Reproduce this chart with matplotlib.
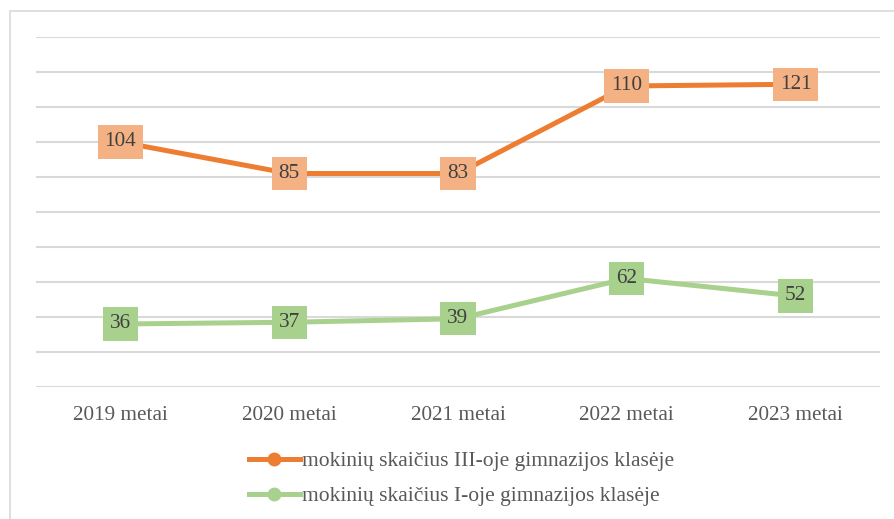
import matplotlib
matplotlib.use("Agg")
import matplotlib.pyplot as plt
from matplotlib.lines import Line2D
from matplotlib.patches import Rectangle

categories = ["2019 metai", "2020 metai", "2021 metai", "2022 metai", "2023 metai"]
grade1 = [36, 37, 39, 62, 52]
grade3 = [104, 85, 83, 110, 121]
label_g3 = "mokinių skaičius III-oje gimnazijos klasėje"
label_g1 = "mokinių skaičius I-oje gimnazijos klasėje"

ORANGE = "#ED7D31"
ORANGE_L = "#F4B183"
GREEN = "#A9D18E"
GRID = "#D9D9D9"
TXT = "#595959"

W, H = 894, 519
fig = plt.figure(figsize=(W / 100, H / 100), dpi=100)
plt.rcParams['font.family'] = ['Liberation Serif', 'DejaVu Serif']

# outer frame (cropped chart area border)
fig.patches.append(Rectangle((10 / W, -0.1), 2.0, 1 - 11 / H + 0.1,
                             transform=fig.transFigure, fill=False,
                             edgecolor=GRID, linewidth=1.2))

ax = fig.add_axes([36 / W, 1 - 387 / H, (880 - 36) / W, (387 - 37) / H])
x = list(range(len(categories)))
stack3 = [a + b for a, b in zip(grade1, grade3)]

ax.set_xlim(-0.5, len(categories) - 0.5)
ax.set_ylim(0, 200)
ax.set_yticks(range(0, 201, 20))
ax.yaxis.grid(True, color=GRID, linewidth=1.5)
ax.set_axisbelow(True)
for s in ax.spines.values():
    s.set_visible(False)
ax.tick_params(axis='y', left=False, labelleft=False)
ax.tick_params(axis='x', bottom=False, pad=10)
ax.set_xticks(x)
ax.set_xticklabels(categories, fontsize=15.3, color=TXT)

ax.plot(x, grade1, color=GREEN, linewidth=3.6, solid_capstyle='round', zorder=3)
ax.plot(x, stack3, color=ORANGE, linewidth=3.6, solid_capstyle='round', zorder=3)

for xi, yv, v in zip(x, grade1, grade1):
    ax.annotate(str(v), (xi, yv), ha='center', va='center', fontsize=15.3,
                color="#404040", zorder=5,
                bbox=dict(boxstyle='square,pad=0.33', facecolor=GREEN, edgecolor='none'))
for xi, yv, v in zip(x, stack3, grade3):
    ax.annotate(str(v), (xi, yv), ha='center', va='center', fontsize=15.3,
                color="#404040", zorder=5,
                bbox=dict(boxstyle='square,pad=0.33', facecolor=ORANGE_L, edgecolor='none'))

handles = [
    Line2D([], [], color=ORANGE, linewidth=3.6, marker='o', markersize=9),
    Line2D([], [], color=GREEN, linewidth=3.6, marker='o', markersize=9),
]
fig.legend(handles, [label_g3, label_g1], loc='upper left',
           bbox_to_anchor=(249 / W, 1 - 451 / H), frameon=False,
           fontsize=15.5, labelcolor=TXT, handlelength=2.35, handletextpad=0.12,
           labelspacing=0.7, borderaxespad=0, borderpad=0)

fig.savefig("out.png", dpi=100)
